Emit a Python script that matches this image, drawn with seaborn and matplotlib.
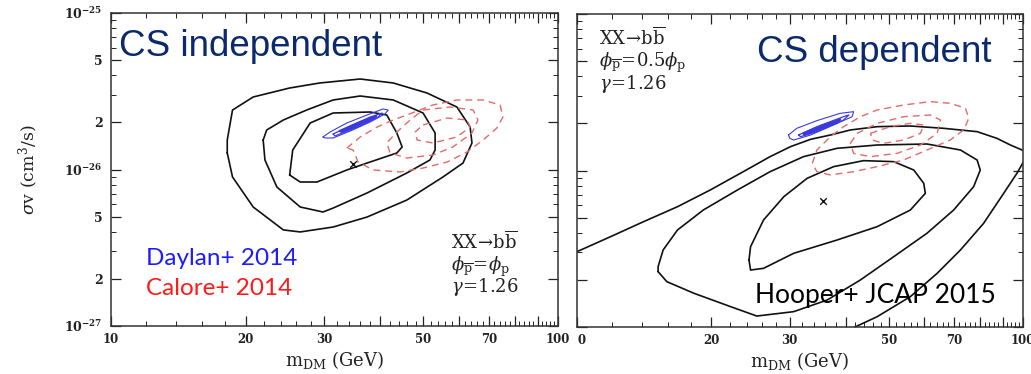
import numpy as np
import matplotlib
matplotlib.use("Agg")
import matplotlib.pyplot as plt
import seaborn as sns
from matplotlib.ticker import FixedLocator, FixedFormatter, NullFormatter

# ---------------- data: m_DM in GeV, sigma v in units of 1e-26 cm^3/s ----------------
# Left panel (CS independent)
L_outer_m = [18.2, 18.2, 18.7, 20.8, 25.1, 29.3, 36.1, 42.8, 50.9, 59.4, 63.6, 64.2, 61.3, 55.3,
             45.9, 37.4, 31.4, 26.5, 24.3, 20.8, 18.7]
L_outer_sv = [1.275, 1.543, 2.399, 2.906, 3.317, 3.571, 3.787, 3.571, 3.083, 2.508, 1.869, 1.477,
              1.100, 0.896, 0.638, 0.497, 0.429, 0.399, 0.411, 0.576, 0.896]
L_mid_m = [21.9, 22.3, 24.3, 27.4, 31.4, 36.1, 42.8, 49.9, 53.1, 53.1, 51.7, 45.9, 37.4, 31.4,
           29.8, 26.5, 23.5, 22.1]
L_mid_sv = [1.543, 1.788, 2.072, 2.399, 2.781, 2.949, 2.781, 2.296, 1.711, 1.332, 1.150, 0.950,
            0.708, 0.567, 0.535, 0.576, 0.773, 1.150]
L_in_m = [25.1, 25.5, 27.9, 31.4, 38.0, 41.4, 43.6, 44.8, 43.6, 37.4, 33.7, 28.9, 26.5]
L_in_sv = [0.922, 1.332, 1.982, 2.296, 2.330, 2.230, 1.711, 1.393, 1.275, 1.100, 0.993, 0.832, 0.832]
L_best = (34.7, 1.084)

L_blue1_m = [29.8, 30.9, 33.7, 37.4, 40.6, 41.7, 41.0, 38.0, 34.3, 31.4, 30.1]
L_blue1_sv = [1.613, 1.736, 1.982, 2.230, 2.436, 2.399, 2.263, 2.012, 1.762, 1.590, 1.590]
L_blue2_m = [31.4, 34.3, 38.0, 40.4, 39.6, 36.1, 32.9, 31.7]
L_blue2_sv = [1.686, 1.897, 2.165, 2.296, 2.165, 1.897, 1.711, 1.637]
L_blue3_m = [32.5, 35.7, 39.2, 38.4, 35.0, 32.9]
L_blue3_sv = [1.762, 1.982, 2.197, 2.102, 1.869, 1.736]

L_red1_m = [33.7, 36.1, 39.4, 42.8, 45.9, 52.5, 59.4, 68.0, 74.2, 75.3, 73.0, 68.0, 62.6, 56.5,
            49.9, 44.3, 38.6, 35.7, 34.8]
L_red1_sv = [1.372, 1.613, 1.869, 2.072, 2.230, 2.584, 2.781, 2.781, 2.584, 2.165, 1.842, 1.543,
             1.294, 1.117, 1.022, 0.964, 0.993, 1.117, 1.332]
L_red2_m = [49.9, 57.3, 64.6, 66.2, 64.2, 58.2, 52.5, 45.9, 42.1, 41.4, 43.6, 46.7]
L_red2_sv = [2.399, 2.508, 2.399, 2.072, 1.711, 1.393, 1.238, 1.184, 1.275, 1.477, 1.736, 2.072]
L_red3_m = [49.9, 56.5, 62.6, 63.6, 59.4, 52.5, 48.4, 47.9]
L_red3_sv = [1.925, 2.133, 2.072, 1.869, 1.613, 1.477, 1.543, 1.736]

# Right panel (CS dependent)
R_outer_up_m = [10.0, 11.9, 14.1, 16.8, 19.9, 23.6, 27.1, 30.1, 33.4, 37.0, 41.0, 47.1, 55.9,
                66.4, 78.9, 87.4, 93.7, 100.3]
R_outer_up_sv = [0.303, 0.378, 0.471, 0.587, 0.751, 0.983, 1.226, 1.420, 1.582, 1.686, 1.815,
                 1.906, 1.925, 1.860, 1.771, 1.605, 1.455, 1.339]
R_outer_lo_m = [41.7, 47.1, 55.9, 64.2, 72.4, 81.6, 90.5, 96.9, 100.3]
R_outer_lo_sv = [0.0990, 0.1164, 0.1563, 0.2203, 0.3105, 0.4597, 0.7146, 0.959, 1.139]
R_mid_m = [15.2, 15.2, 15.6, 16.8, 19.2, 22.9, 27.1, 32.2, 38.3, 47.1, 60.9, 72.4, 78.9, 80.2,
           77.5, 69.9, 60.9, 51.3, 43.2, 36.4, 30.6, 25.3, 22.1, 18.3, 15.9]
R_mid_sv = [0.2258, 0.2429, 0.3105, 0.4168, 0.5594, 0.751, 0.983, 1.226, 1.386, 1.455, 1.477,
            1.352, 1.167, 1.007, 0.788, 0.559, 0.397, 0.2814, 0.1998, 0.1488, 0.1253, 0.1175,
            0.1349, 0.1641, 0.1949]
R_in_m = [24.3, 24.5, 26.2, 29.1, 32.8, 37.6, 43.9, 51.3, 56.9, 59.9, 60.4, 55.9, 47.1, 38.3,
          30.6, 26.2, 24.5]
R_in_sv = [0.268, 0.326, 0.483, 0.681, 0.891, 1.058, 1.156, 1.139, 1.007, 0.828, 0.715, 0.559,
           0.4377, 0.3597, 0.2956, 0.2371, 0.2312]
R_best = (35.6, 0.638)

R_blue1_m = [29.8, 31.1, 34.5, 38.9, 41.7, 41.4, 37.6, 33.4, 30.6, 30.0]
R_blue1_sv = [1.686, 1.860, 2.082, 2.319, 2.376, 2.208, 1.953, 1.686, 1.566, 1.605]
R_blue2_m = [31.4, 34.5, 39.6, 40.7, 39.6, 34.5, 31.7]
R_blue2_sv = [1.686, 1.906, 2.208, 2.263, 2.102, 1.771, 1.645]
R_blue3_m = [32.2, 36.4, 38.9, 38.3, 34.5, 32.5]
R_blue3_sv = [1.728, 1.982, 2.123, 2.021, 1.815, 1.694]

R_red1_m = [33.7, 34.5, 37.0, 39.6, 43.2, 47.1, 54.0, 62.0, 68.7, 74.3, 75.6, 73.6, 68.7, 60.9,
            54.0, 47.1, 41.7, 37.0, 34.5]
R_red1_sv = [1.111, 1.352, 1.645, 1.906, 2.208, 2.436, 2.622, 2.754, 2.687, 2.496, 2.154, 1.815,
             1.566, 1.352, 1.167, 1.058, 0.983, 0.936, 0.983]
R_red2_m = [41.0, 42.5, 47.1, 54.0, 62.0, 65.3, 64.2, 58.9, 52.2, 45.5, 41.7]
R_red2_sv = [1.491, 1.728, 2.002, 2.208, 2.263, 2.102, 1.728, 1.455, 1.287, 1.226, 1.287]
R_red3_m = [45.5, 50.4, 55.9, 59.9, 58.9, 54.0, 48.7, 45.9]
R_red3_sv = [1.728, 1.906, 2.002, 1.953, 1.728, 1.566, 1.491, 1.566]

# axes ticks
x_major = [10, 20, 30, 40, 50, 60, 70, 80, 90, 100]
x_major_labels_left = ["10", "20", "30", "", "50", "", "70", "", "", "100"]
x_major_labels_right = ["0", "20", "30", "", "50", "", "70", "", "", "100"]  # "1" hidden in the source image
x_minor = [v for v in range(12, 100, 2) if v % 10 != 0]
y_major = [1e-27, 2e-27, 5e-27, 1e-26, 2e-26, 5e-26, 1e-25]
y_major_labels = [r"$\mathbf{10^{-27}}$", "2", "5", r"$\mathbf{10^{-26}}$", "2", "5",
                  r"$\mathbf{10^{-25}}$"]
y_minor = [k * 10.0 ** d for d in (-27, -26) for k in (3, 4, 6, 7, 8, 9)]

SV_UNIT = 1e-26

# ---------------- style ----------------
sns.set_theme(style="ticks")
plt.rcParams["font.family"] = ["DejaVu Serif"]
plt.rcParams["mathtext.fontset"] = "dejavuserif"

W, H = 1031, 374
fig = plt.figure(figsize=(W / 100, H / 100), dpi=100)
fig.patch.set_facecolor("white")

axL = fig.add_axes([111 / W, 1 - 326 / H, 447 / W, 313 / H])
axR = fig.add_axes([577 / W, 1 - 327 / H, 446 / W, 313 / H])

BLACK = "#111111"
BLUE = "#3a3ae0"
RED = "#e36a6a"


def curve(ax, m, sv, color, lw, ls="-", closed=True):
    m = list(m)
    sv = list(sv)
    if closed:
        m = m + [m[0]]
        sv = sv + [sv[0]]
    sns.lineplot(x=m, y=np.array(sv) * SV_UNIT, ax=ax, sort=False, estimator=None,
                 color=color, lw=lw, ls=ls, legend=False)


for ax in (axL, axR):
    ax.set_xscale("log")
    ax.set_yscale("log")
    ax.set_xlim(10, 100)
    ax.set_ylim(1e-27, 1e-25)
    ax.set_facecolor("white")

dash = (0, (5, 3.5))
# left panel
curve(axL, L_outer_m, L_outer_sv, BLACK, 1.2)
curve(axL, L_mid_m, L_mid_sv, BLACK, 1.2)
curve(axL, L_in_m, L_in_sv, BLACK, 1.2)
for m, s in ((L_red1_m, L_red1_sv), (L_red2_m, L_red2_sv), (L_red3_m, L_red3_sv)):
    curve(axL, m, s, RED, 1.0, ls=dash)
for m, s, lw in ((L_blue1_m, L_blue1_sv, 0.8), (L_blue2_m, L_blue2_sv, 0.9), (L_blue3_m, L_blue3_sv, 1.6)):
    curve(axL, m, s, BLUE, lw)
sns.scatterplot(x=[L_best[0]], y=[L_best[1] * SV_UNIT], ax=axL, marker="x", color=BLACK,
                s=22, linewidth=1.0, legend=False)

# right panel
curve(axR, R_outer_up_m, R_outer_up_sv, BLACK, 1.2, closed=False)
curve(axR, R_outer_lo_m, R_outer_lo_sv, BLACK, 1.2, closed=False)
curve(axR, R_mid_m, R_mid_sv, BLACK, 1.2)
curve(axR, R_in_m, R_in_sv, BLACK, 1.2)
for m, s in ((R_red1_m, R_red1_sv), (R_red2_m, R_red2_sv), (R_red3_m, R_red3_sv)):
    curve(axR, m, s, RED, 1.0, ls=dash)
for m, s, lw in ((R_blue1_m, R_blue1_sv, 0.8), (R_blue2_m, R_blue2_sv, 0.9), (R_blue3_m, R_blue3_sv, 1.6)):
    curve(axR, m, s, BLUE, lw)
sns.scatterplot(x=[R_best[0]], y=[R_best[1] * SV_UNIT], ax=axR, marker="x", color=BLACK,
                s=22, linewidth=1.0, legend=False)

# ticks & spines
for ax, xl in ((axL, x_major_labels_left), (axR, x_major_labels_right)):
    ax.xaxis.set_major_locator(FixedLocator(x_major))
    ax.xaxis.set_major_formatter(FixedFormatter(xl))
    ax.xaxis.set_minor_locator(FixedLocator(x_minor))
    ax.xaxis.set_minor_formatter(NullFormatter())
    ax.yaxis.set_major_locator(FixedLocator(y_major))
    ax.yaxis.set_minor_locator(FixedLocator(y_minor))
    ax.yaxis.set_minor_formatter(NullFormatter())
    ax.tick_params(which="major", direction="in", length=7, width=0.9, top=True, right=True,
                   colors="#222222", labelsize=8.5)
    ax.tick_params(which="minor", direction="in", length=3.5, width=0.7, top=True, right=True,
                   colors="#222222")
    ax.tick_params(axis="x", pad=5)
    ax.tick_params(axis="y", pad=6, labelsize=9)
    for lab in ax.get_xticklabels() + ax.get_yticklabels():
        lab.set_fontweight("bold")
    for sp in ax.spines.values():
        sp.set_visible(True)
        sp.set_color("#333333")
        sp.set_linewidth(1.1)
    ax.set_xlabel(r"$\mathregular{m_{DM}}$ (GeV)", fontsize=13, color="#222222", labelpad=2)

for lab in axR.get_xticklabels():
    if lab.get_text() == "0":
        lab.set_horizontalalignment("left")

axL.yaxis.set_major_formatter(FixedFormatter(y_major_labels))
for lab in axL.get_yticklabels():
    lab.set_fontweight("bold")
axL.set_ylabel(r"$\sigma$v (cm$^3$/s)", fontsize=12.5, color="#222222", labelpad=17)
axR.yaxis.set_major_formatter(NullFormatter())
axR.set_ylabel("")

# annotation text inside the panels
ann_kw = dict(fontsize=13, color="#222222", family="DejaVu Serif", ha="left", va="baseline")
t1 = r"$\mathregular{XX}\!\rightarrow\!\mathregular{b\overline{b}}$"
t2L = r"$\phi_{\overline{\mathregular{p}}}\!=\!\phi_{\mathregular{p}}$"
t2R = r"$\phi_{\overline{\mathregular{p}}}\!=\!\mathregular{0.5}\phi_{\mathregular{p}}$"
t3 = r"$\gamma\!=\!\mathregular{1.26}$"
axL.text(0.76, 0.245, t1, transform=axL.transAxes, **ann_kw)
axL.text(0.76, 0.175, t2L, transform=axL.transAxes, **ann_kw)
axL.text(0.76, 0.11, t3, transform=axL.transAxes, **ann_kw)
axR.text(0.05, 0.9, t1, transform=axR.transAxes, **ann_kw)
axR.text(0.05, 0.83, t2R, transform=axR.transAxes, **ann_kw)
axR.text(0.05, 0.76, t3, transform=axR.transAxes, **ann_kw)

# overlay slide text
NAVY = "#0b2a6e"
fig.text(119 / W, 1 - 56.5 / H, "CS independent", fontsize=26.5, color=NAVY,
         family="Liberation Sans", ha="left", va="baseline")
fig.text(757 / W, 1 - 62 / H, "CS dependent", fontsize=26.5, color=NAVY,
         family="Liberation Sans", ha="left", va="baseline")
fig.text(146 / W, 1 - 265 / H, "Daylan+ 2014", fontsize=17.5, color="#1c1cff",
         family="Lato", ha="left", va="baseline")
fig.text(146 / W, 1 - 295 / H, "Calore+ 2014", fontsize=17.5, color="#ff1a1a",
         family="Lato", ha="left", va="baseline")
fig.text(755 / W, 1 - 303 / H, "Hooper+ JCAP 2015", fontsize=19, color="black",
         family="Lato", ha="left", va="baseline")

fig.savefig("out.png", dpi=100, facecolor="white")
